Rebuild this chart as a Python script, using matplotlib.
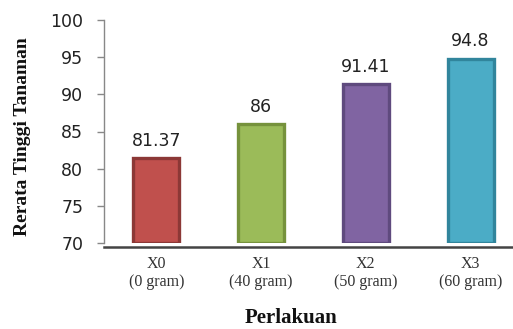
import matplotlib
matplotlib.use("Agg")
import matplotlib.pyplot as plt

plt.rcParams['font.family'] = ['Liberation Serif', 'DejaVu Serif']
plt.rcParams['xtick.labelsize'] = 11.5
plt.rcParams['xtick.color'] = '#333333'

categories = ["X0\n(0 gram)", "X1\n(40 gram)", "X2\n(50 gram)", "X3\n(60 gram)"]
values = [81.37, 86, 91.41, 94.8]
value_labels = ["81.37", "86", "91.41", "94.8"]
face_colors = ["#C0504D", "#9BBB59", "#8064A2", "#4BACC6"]
edge_colors = ["#8C3836", "#76923C", "#5F4A7E", "#31859C"]
y_ticks = [70, 75, 80, 85, 90, 95, 100]

fig = plt.figure(figsize=(5.13, 3.29), dpi=100)
ax = fig.add_axes([104/513, 1 - 243/329, 419/513, 223/329])

x = list(range(len(categories)))
bars = ax.bar(x, [v - 70 for v in values], bottom=70, width=0.44,
              color=face_colors, edgecolor=edge_colors, linewidth=2.4, zorder=3)

for xi, v, lab in zip(x, values, value_labels):
    ax.annotate(lab, (xi, v), xytext=(0, 6), textcoords="offset points",
                ha="center", va="bottom", fontsize=12.5, color="#222222",
                family="DejaVu Sans")

ax.set_xlim(-0.5, 3.5)
ax.set_ylim(70, 100)
ax.tick_params(axis="y", direction="out", length=5, width=1, color="#888888", pad=10)
ax.tick_params(axis="x", length=0, pad=6, labelsize=11.5, labelcolor="#333333")
ax.set_yticks(y_ticks)
ax.set_yticklabels([str(t) for t in y_ticks])
for lab in ax.get_yticklabels():
    lab.set_fontfamily("DejaVu Sans")
    lab.set_fontsize(12.5)
    lab.set_color("#222222")
ax.set_xticks(x)
ax.set_xticklabels(categories, fontsize=11.5, linespacing=1.2)

for s in ["top", "right"]:
    ax.spines[s].set_visible(False)
ax.spines["left"].set_color("#888888")
ax.spines["left"].set_linewidth(1)
ax.spines["bottom"].set_color("#444444")
ax.spines["bottom"].set_linewidth(1.8)
ax.spines["bottom"].set_position(("outward", 3))

fig.text(23/513, 1 - 137/329, "Rerata Tinggi Tanaman", rotation=90,
         ha="center", va="center", fontsize=14, fontweight="bold",
         family="Liberation Serif", color="#111111")
fig.text(291/513, 1 - 318/329, "Perlakuan", ha="center", va="center",
         fontsize=15, fontweight="bold", family="Liberation Serif", color="#111111")

fig.savefig("out.png", dpi=100)
